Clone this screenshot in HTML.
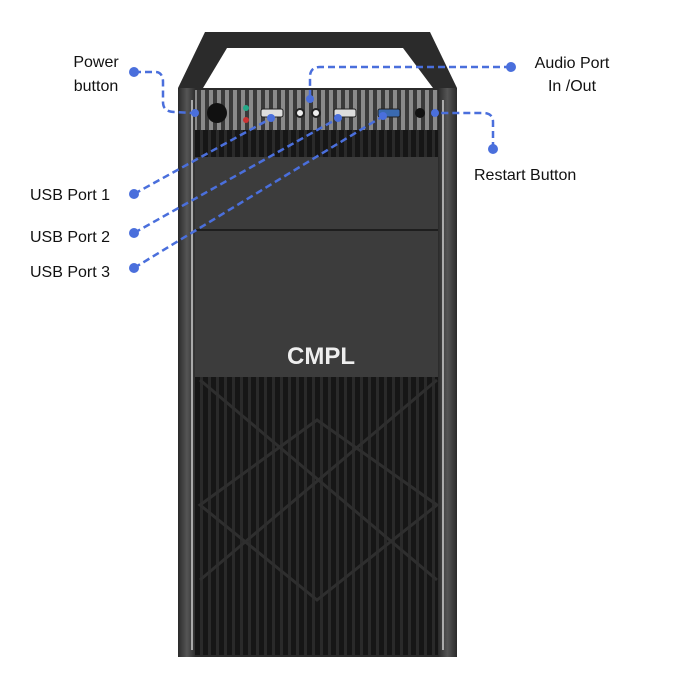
<!DOCTYPE html>
<html><head><style>
body{margin:0;background:#fff;width:679px;height:679px;overflow:hidden}
text{font-family:"Liberation Sans",sans-serif;font-size:16px;fill:#111}
</style></head><body>
<svg width="679" height="679" viewBox="0 0 679 679">
<defs>
<pattern id="ribs" width="8" height="10" patternUnits="userSpaceOnUse">
<rect width="8" height="10" fill="#161616"/><rect x="0" width="3" height="10" fill="#2a2a2a"/>
</pattern>
<pattern id="topribs" width="8" height="10" patternUnits="userSpaceOnUse">
<rect width="8" height="10" fill="#3a3a3a"/><rect x="1" width="4" height="10" fill="#8a8a8a"/>
</pattern>
<linearGradient id="side" x1="0" x2="1"><stop offset="0" stop-color="#2a2a2a"/><stop offset=".5" stop-color="#555"/><stop offset="1" stop-color="#2a2a2a"/></linearGradient>
</defs>
<path d="M178 88 L205 32 L430 32 L457 88 L457 657 L178 657 Z" fill="#2b2b2b"/>
<path d="M227 48 L403 48 L433 88 L203 88 Z" fill="#fff"/>
<rect x="178" y="88" width="18" height="569" fill="url(#side)"/>
<rect x="438" y="88" width="19" height="569" fill="url(#side)"/>
<rect x="191" y="100" width="2" height="550" fill="#aaa"/>
<rect x="442" y="100" width="2" height="550" fill="#aaa"/>
<rect x="195" y="90" width="243" height="40" fill="url(#topribs)"/>
<rect x="195" y="130" width="243" height="27" fill="url(#ribs)"/>
<circle cx="217" cy="113" r="10" fill="#111"/>
<circle cx="246" cy="108" r="3" fill="#2a8"/><circle cx="246" cy="120" r="3" fill="#c33"/>
<rect x="261" y="109" width="22" height="8" rx="2" fill="#ddd" stroke="#222"/>
<circle cx="300" cy="113" r="4" fill="#eee" stroke="#222" stroke-width="2"/>
<circle cx="316" cy="113" r="4" fill="#eee" stroke="#222" stroke-width="2"/>
<rect x="334" y="109" width="22" height="8" rx="2" fill="#ddd" stroke="#222"/>
<rect x="378" y="109" width="22" height="8" rx="2" fill="#3a6ab0" stroke="#222"/>
<circle cx="420" cy="113" r="5" fill="#111"/>
<rect x="195" y="157" width="243" height="220" fill="#3c3c3c"/>
<line x1="195" y1="230" x2="438" y2="230" stroke="#1e1e1e" stroke-width="2"/>
<text x="321" y="364" text-anchor="middle" style="font-size:24px;font-weight:bold;fill:#eee">CMPL</text>
<rect x="195" y="377" width="243" height="278" fill="url(#ribs)"/>
<g stroke="#2e2e2e" stroke-width="3" fill="none">
<path d="M200 380 L437 580 M437 380 L200 580 M200 505 L317 420 L437 505 L317 600 Z"/>
</g>
<g stroke="#4a6fdc" stroke-width="2.5" stroke-dasharray="7 4" fill="none">
<path d="M134 72 L155 72 Q163 72 163 82 L163 102 Q163 112 175 112 L192 113"/>
<path d="M134 194 L268 120"/>
<path d="M134 233 L335 120"/>
<path d="M134 268 L380 118"/>
<path d="M511 67 L320 67 Q310 67 310 77 L310 96"/>
<path d="M493 149 L493 122 Q493 113 483 113 L440 113"/>
</g>
<g fill="#4a6fdc">
<circle cx="134" cy="72" r="5"/><circle cx="134" cy="194" r="5"/><circle cx="134" cy="233" r="5"/><circle cx="134" cy="268" r="5"/>
<circle cx="511" cy="67" r="5"/><circle cx="493" cy="149" r="5"/>
<circle cx="195" cy="113" r="4"/><circle cx="271" cy="118" r="4"/><circle cx="338" cy="118" r="4"/><circle cx="383" cy="116" r="4"/>
<circle cx="310" cy="99" r="4"/><circle cx="435" cy="113" r="4"/>
</g>
<text x="96" y="67" text-anchor="middle">Power</text>
<text x="96" y="91" text-anchor="middle">button</text>
<text x="30" y="200">USB Port 1</text>
<text x="30" y="242">USB Port 2</text>
<text x="30" y="277">USB Port 3</text>
<text x="572" y="68" text-anchor="middle">Audio Port</text>
<text x="572" y="91" text-anchor="middle">In /Out</text>
<text x="474" y="180">Restart Button</text>
</svg>
</body></html>
